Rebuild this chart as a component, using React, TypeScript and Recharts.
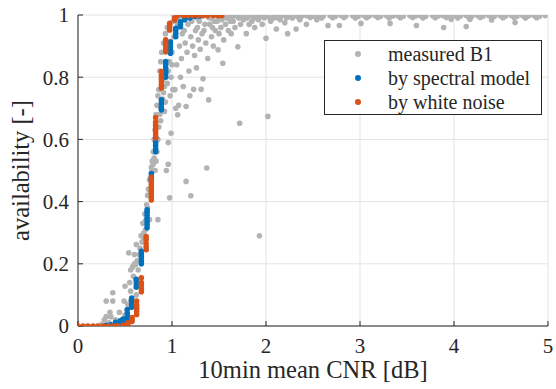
import { CartesianGrid, Scatter, ScatterChart, XAxis, YAxis } from "recharts";

const xTicks = [0, 1, 2, 3, 4, 5];
const yTicks = [0, 0.2, 0.4, 0.6, 0.8, 1];

const seriesNames = ["measured B1", "by spectral model", "by white noise"];
const seriesColors = ["#b3b3b3", "#0072bd", "#d95319"];

// measured points along the rise and the scattered cloud
const measuredRise: [number, number][] = [
  [0.25, 0.005], [0.28, 0.02], [0.3, 0.03], [0.3, 0.08], [0.33, 0.01], [0.34, 0.044],
  [0.35, 0.03], [0.37, 0.08], [0.37, 0.107], [0.4, 0.02], [0.42, 0.01], [0.44, 0.044],
  [0.47, 0.02], [0.49, 0.08], [0.5, 0.035], [0.5, 0.128], [0.52, 0.05], [0.53, 0.07],
  [0.54, 0.235], [0.55, 0.14], [0.56, 0.08], [0.56, 0.112], [0.56, 0.18], [0.58, 0.19],
  [0.59, 0.16], [0.6, 0.23], [0.6, 0.2], [0.61, 0.197], [0.62, 0.262], [0.62, 0.1],
  [0.63, 0.21], [0.64, 0.18], [0.65, 0.23], [0.66, 0.25], [0.67, 0.29], [0.68, 0.27],
  [0.69, 0.33], [0.7, 0.3], [0.7, 0.28], [0.71, 0.36], [0.72, 0.31], [0.72, 0.34],
  [0.73, 0.39], [0.74, 0.38], [0.74, 0.42], [0.75, 0.44], [0.76, 0.342], [0.76, 0.47],
  [0.77, 0.43], [0.78, 0.51], [0.79, 0.5], [0.79, 0.53], [0.8, 0.52], [0.8, 0.56],
  [0.81, 0.54], [0.81, 0.6], [0.82, 0.5], [0.82, 0.63], [0.83, 0.53], [0.83, 0.68],
  [0.84, 0.56], [0.84, 0.71], [0.85, 0.342], [0.85, 0.6], [0.85, 0.74], [0.86, 0.64],
  [0.86, 0.76], [0.87, 0.68], [0.87, 0.82], [0.88, 0.66], [0.88, 0.7], [0.88, 0.85],
  [0.89, 0.88], [0.9, 0.73], [0.9, 0.79], [0.91, 0.75], [0.91, 0.91], [0.92, 0.77],
  [0.92, 0.69], [0.93, 0.72], [0.93, 0.94], [0.94, 0.5], [0.95, 0.78], [0.95, 0.96],
  [0.96, 0.52], [0.96, 0.59], [0.96, 0.82], [0.97, 0.85], [0.975, 0.412], [0.98, 0.74],
  [0.98, 0.97], [0.99, 0.62], [0.99, 0.8], [1.0, 0.88], [1.0, 0.84], [1.01, 0.76],
  [1.01, 0.98],
];

const measuredCloud: [number, number][] = [
  [1.02, 0.93], [1.03, 0.76], [1.04, 0.7], [1.05, 0.84], [1.06, 0.679], [1.06, 0.97],
  [1.07, 0.71], [1.08, 0.9], [1.09, 0.8], [1.1, 0.86], [1.11, 0.94], [1.12, 0.77],
  [1.13, 0.95], [1.14, 0.91], [1.15, 0.706], [1.15, 0.465], [1.16, 0.88], [1.17, 0.97],
  [1.18, 0.82], [1.19, 0.74], [1.2, 0.419], [1.2, 0.93], [1.21, 0.98], [1.22, 0.9],
  [1.23, 0.761], [1.24, 0.87], [1.25, 0.95], [1.26, 0.83], [1.27, 0.96], [1.28, 0.92],
  [1.29, 0.98], [1.3, 0.89], [1.31, 0.761], [1.32, 0.94], [1.33, 0.795], [1.34, 0.95],
  [1.35, 0.97], [1.36, 0.91], [1.37, 0.508], [1.38, 0.86], [1.39, 0.727], [1.4, 0.97],
  [1.41, 0.99], [1.42, 0.93], [1.43, 0.96], [1.44, 0.9], [1.45, 0.98], [1.46, 0.95],
  [1.48, 0.98], [1.49, 0.888], [1.5, 0.94], [1.52, 0.96], [1.53, 0.985], [1.54, 0.845],
  [1.55, 0.92], [1.57, 0.97], [1.58, 0.99], [1.6, 0.95], [1.62, 0.98], [1.63, 0.94],
  [1.65, 0.98], [1.67, 0.96], [1.7, 0.898], [1.71, 0.99], [1.72, 0.652], [1.73, 0.97],
  [1.76, 0.985], [1.79, 0.94], [1.8, 0.99], [1.82, 0.97], [1.85, 0.98], [1.88, 0.96],
  [1.9, 0.99], [1.92, 0.985], [1.93, 0.29], [1.96, 0.97], [2.0, 0.925], [2.02, 0.674],
  [2.04, 0.99], [2.05, 0.98], [2.08, 0.99], [2.11, 0.955], [2.15, 0.985], [2.2, 0.975],
  [2.23, 0.94], [2.28, 0.99], [2.32, 0.955], [2.36, 0.985], [2.43, 0.97], [2.54, 0.985],
  [2.66, 0.966], [2.78, 0.966], [3.01, 0.973], [3.32, 0.973], [3.6, 0.966], [3.89, 0.96],
  [3.97, 0.986], [4.13, 0.963], [4.17, 0.986], [4.4, 0.984], [4.65, 0.976],
];

// the thick band of measured points sitting at ~1
const measuredBand: [number, number][] = [
  [1.02, 0.998], [1.08, 0.996], [1.13, 0.998], [1.19, 0.997], [1.24, 0.998], [1.31, 0.996],
  [1.36, 0.998], [1.42, 0.997], [1.47, 0.998], [1.53, 0.996], [1.6, 0.998], [1.66, 0.997],
  [1.71, 0.998], [1.77, 0.996], [1.84, 0.998], [1.9, 0.997], [1.95, 0.998], [2.01, 0.996],
  [2.08, 0.998], [2.14, 0.997], [2.19, 0.998], [2.25, 0.996], [2.32, 0.998], [2.38, 0.997],
  [2.43, 0.998], [2.5, 0.996], [2.56, 0.998], [2.61, 0.997], [2.68, 0.998], [2.74, 0.996],
  [2.8, 0.998], [2.85, 0.997], [2.92, 0.998], [2.98, 0.996], [3.04, 0.998], [3.1, 0.997],
  [3.16, 0.998], [3.22, 0.996], [3.28, 0.998], [3.35, 0.997], [3.4, 0.998], [3.46, 0.996],
  [3.53, 0.998], [3.59, 0.997], [3.64, 0.998], [3.7, 0.996], [3.77, 0.998], [3.83, 0.997],
  [3.88, 0.998], [3.95, 0.996], [4.01, 0.998], [4.07, 0.997], [4.13, 0.998], [4.19, 0.996],
  [4.25, 0.998], [4.31, 0.997], [4.37, 0.998], [4.43, 0.996], [4.49, 0.998], [4.55, 0.997],
  [4.61, 0.998], [4.67, 0.996], [4.73, 0.998], [4.79, 0.997], [4.85, 0.998], [4.91, 0.996],
  [4.97, 0.998],
  [1.05, 0.99], [1.16, 0.991], [1.27, 0.99], [1.39, 0.992], [1.5, 0.99], [1.63, 0.991],
  [1.74, 0.992], [1.87, 0.99], [1.98, 0.991], [2.11, 0.992], [2.22, 0.99], [2.35, 0.991],
  [2.47, 0.992], [2.59, 0.99], [2.71, 0.991], [2.83, 0.992], [2.95, 0.99], [3.07, 0.991],
  [3.19, 0.992], [3.31, 0.99], [3.43, 0.991], [3.56, 0.992], [3.67, 0.99], [3.8, 0.991],
  [3.92, 0.992], [4.04, 0.99], [4.16, 0.991], [4.28, 0.992], [4.4, 0.99], [4.52, 0.991],
  [4.64, 0.992], [4.76, 0.99], [4.88, 0.991],
];

// model runs: each CNR value has a short vertical stack of results
const spectralModel: [number, number[]][] = [
  [0.3, [0.002]], [0.35, [0.004]], [0.4, [0.007, 0.012]], [0.45, [0.01, 0.017]],
  [0.48, [0.015, 0.022]], [0.525, [0.02, 0.03, 0.04, 0.053]], [0.571, [0.06, 0.07, 0.08, 0.09]],
  [0.62, [0.125, 0.135, 0.145, 0.15]], [0.674, [0.2, 0.21, 0.22, 0.23, 0.24]],
  [0.735, [0.316, 0.326, 0.336, 0.346, 0.356, 0.366, 0.374]], [0.78, [0.47, 0.48, 0.49]],
  [0.826, [0.56, 0.57, 0.58, 0.59, 0.605]], [0.887, [0.695, 0.705, 0.715, 0.727]],
  [0.933, [0.8, 0.81, 0.82, 0.83, 0.84, 0.85]], [0.983, [0.877, 0.887, 0.897, 0.907, 0.914]],
  [1.04, [0.93, 0.94, 0.95, 0.957]], [1.09, [0.962, 0.97, 0.978]], [1.135, [0.985, 0.99]],
  [1.19, [0.99, 0.994]], [1.24, [0.995]], [1.29, [0.997]],
];

const whiteNoise: [number, number[]][] = [
  [0.0, [0]], [0.053, [0]], [0.105, [0]], [0.16, [0]], [0.21, [0]], [0.265, [0]],
  [0.32, [0]], [0.37, [0]], [0.42, [0.001]], [0.48, [0.003]], [0.53, [0.006, 0.01]],
  [0.575, [0.015, 0.022, 0.027]], [0.624, [0.037, 0.047, 0.057, 0.067, 0.08]],
  [0.674, [0.11, 0.12, 0.13, 0.14, 0.155]], [0.725, [0.245, 0.255, 0.265, 0.278, 0.288]],
  [0.78, [0.405, 0.415, 0.425, 0.435, 0.445, 0.455, 0.465, 0.478]],
  [0.826, [0.605, 0.615, 0.625, 0.635, 0.645, 0.655, 0.67]],
  [0.887, [0.765, 0.775, 0.785, 0.795, 0.805, 0.818]], [0.933, [0.882, 0.892, 0.902, 0.912, 0.92]],
  [0.975, [0.952, 0.962, 0.973]], [1.03, [0.984, 0.99]], [1.06, [0.998]], [1.12, [0.998]],
  [1.17, [0.998]], [1.22, [0.998]], [1.28, [0.998]], [1.33, [0.998]], [1.38, [0.998]],
  [1.44, [0.998]], [1.49, [0.998]], [1.53, [0.998]],
];

const toPoints = (rows: [number, number][]) => rows.map(([x, y]) => ({ x, y }));
const fromStacks = (rows: [number, number[]][]) =>
  rows.flatMap(([x, ys]) => ys.map((y) => ({ x, y })));

const measuredData = toPoints([...measuredRise, ...measuredCloud, ...measuredBand]);
const spectralData = fromStacks(spectralModel);
const whiteData = fromStacks(whiteNoise);

const font = '"Liberation Serif", "Times New Roman", serif';
const ink = "#262626";
const textCss = { fontFamily: font, fontSize: 21, fill: ink };

const dot = (color: string) => (p: any) => (
  <circle cx={p.cx} cy={p.cy} r={2.8} fill={color} />
);

// own tick text, recharts kept dropping the serif font
const renderXTick = (p: any) => (
  <text x={p.x} y={p.y} dy="0.71em" textAnchor="middle" style={textCss}>
    {String(p.payload.value)}
  </text>
);

const renderYTick = (p: any) => (
  <text x={p.x} y={p.y} dy="0.355em" textAnchor="end" style={textCss}>
    {String(p.payload.value)}
  </text>
);

function YLabel(props: any) {
  const { viewBox } = props;
  const cy = viewBox.y + viewBox.height / 2;
  return (
    <text
      x={29}
      y={cy}
      transform={`rotate(-90 29 ${cy})`}
      textAnchor="middle"
      fill={ink}
      fontSize={24.5}
      fontFamily={font}
    >
      availability [-]
    </text>
  );
}

export default function App() {
  return (
    <div
      style={{
        position: "absolute",
        left: 0,
        top: 0,
        width: 556,
        height: 389,
        background: "#fff",
        fontFamily: font,
      }}
    >
      <ScatterChart width={556} height={389} margin={{ top: 15, right: 8, left: 0, bottom: 0 }}>
        <CartesianGrid stroke="#e3e3e3" horizontalValues={yTicks} verticalValues={xTicks} />
        <XAxis
          type="number"
          dataKey="x"
          domain={[0, 5]}
          ticks={xTicks}
          allowDataOverflow
          height={63}
          tickSize={-5}
          tickMargin={17}
          tick={renderXTick}
          axisLine={{ stroke: ink }}
          tickLine={{ stroke: ink }}
          label={{
            value: "10min mean CNR [dB]",
            position: "insideBottom",
            offset: 11,
            fill: ink,
            fontSize: 24.5,
            fontFamily: font,
          }}
        />
        <XAxis
          xAxisId="top"
          orientation="top"
          type="number"
          domain={[0, 5]}
          ticks={xTicks}
          height={0}
          tickSize={-5}
          tickFormatter={() => ""}
          axisLine={{ stroke: ink }}
          tickLine={{ stroke: ink }}
        />
        <YAxis
          type="number"
          dataKey="y"
          domain={[0, 1]}
          ticks={yTicks}
          allowDataOverflow
          width={78}
          tickSize={-5}
          tickMargin={14}
          tick={renderYTick}
          axisLine={{ stroke: ink }}
          tickLine={{ stroke: ink }}
          label={{ content: YLabel }}
        />
        <YAxis
          yAxisId="right"
          orientation="right"
          type="number"
          domain={[0, 1]}
          ticks={yTicks}
          width={0}
          tickSize={-5}
          tickFormatter={() => ""}
          axisLine={{ stroke: ink }}
          tickLine={{ stroke: ink }}
        />
        <Scatter name={seriesNames[0]} data={measuredData} shape={dot(seriesColors[0])} isAnimationActive={false} />
        <Scatter name={seriesNames[1]} data={spectralData} shape={dot(seriesColors[1])} isAnimationActive={false} />
        <Scatter name={seriesNames[2]} data={whiteData} shape={dot(seriesColors[2])} isAnimationActive={false} />
      </ScatterChart>
      <div
        style={{
          position: "absolute",
          left: 324,
          top: 40,
          width: 218,
          height: 75,
          boxSizing: "border-box",
          border: `1px solid ${ink}`,
          background: "#fff",
          paddingTop: 1,
          fontSize: 20,
          color: ink,
        }}
      >
        {seriesNames.map((name, i) => (
          <div key={name} style={{ position: "relative", height: 24, lineHeight: "24px" }}>
            <span
              style={{
                position: "absolute",
                left: 30,
                top: 9,
                width: 6,
                height: 6,
                borderRadius: 3,
                background: seriesColors[i],
              }}
            />
            <span style={{ position: "absolute", left: 63, top: 0, whiteSpace: "nowrap" }}>{name}</span>
          </div>
        ))}
      </div>
    </div>
  );
}
